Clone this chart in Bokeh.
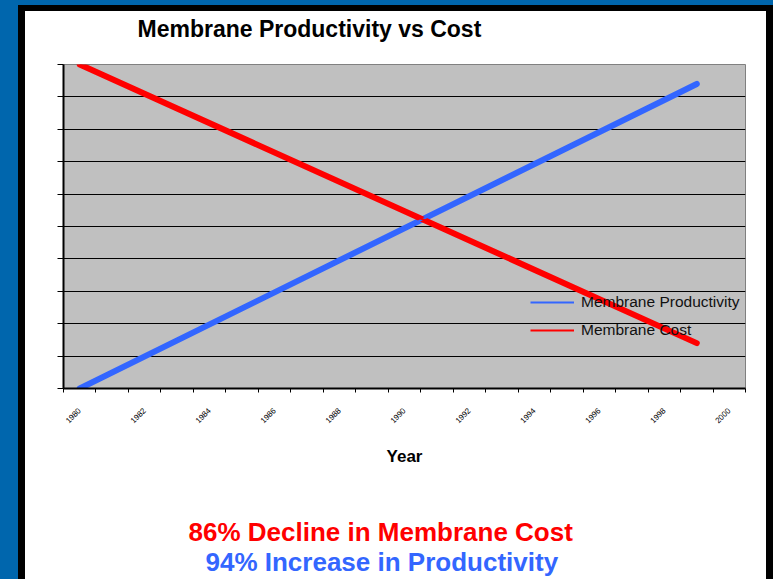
import math
from bokeh.plotting import figure
from bokeh.models import FixedTicker, Range1d, Legend, LegendItem, Title
from bokeh.embed import file_html
from bokeh.resources import INLINE

# ---------------- data ----------------
title_text = "Membrane Productivity vs Cost"
x_label = "Year"
series_names = ["Membrane Productivity", "Membrane Cost"]
years = [1980, 1999]
productivity = [0, 94]
cost = [100, 14]
x_tick_years = [1980, 1982, 1984, 1986, 1988, 1990, 1992, 1994, 1996, 1998, 2000]
x_tick_labels = ["1980", "1982", "1984", "1986", "1988", "1990", "1992", "1994", "1996", "1998", "2000"]
category_edges = [1979.5, 1980.5, 1981.5, 1982.5, 1983.5, 1984.5, 1985.5, 1986.5, 1987.5, 1988.5, 1989.5,
                  1990.5, 1991.5, 1992.5, 1993.5, 1994.5, 1995.5, 1996.5, 1997.5, 1998.5, 1999.5, 2000.5]
y_ticks = [0, 10, 20, 30, 40, 50, 60, 70, 80, 90, 100]
note_cost = "86% Decline in Membrane Cost"
note_prod = "94% Increase in Productivity"

# ---------------- style ----------------
FONT = "Liberation Sans"
BLUE = "#3366ff"
RED = "#ff0000"

p = figure(width=741, height=568, output_backend="svg", toolbar_location=None,
           x_range=Range1d(category_edges[0], category_edges[-1]),
           y_range=Range1d(y_ticks[0], y_ticks[-1]),
           min_border_left=38, min_border_right=21, min_border_top=53, min_border_bottom=191,
           background_fill_color="#c0c0c0", border_fill_color="white",
           outline_line_color="#808080", outline_line_width=1)

xa = p.xaxis[0]
xa.ticker = FixedTicker(ticks=x_tick_years, minor_ticks=category_edges)
xa.major_label_overrides = {y: l for y, l in zip(x_tick_years, x_tick_labels)}
xa.major_tick_out = 0
xa.major_tick_in = 0
xa.minor_tick_out = 4
xa.minor_tick_in = 0
xa.minor_tick_line_color = "black"
xa.axis_line_color = "black"
xa.axis_line_width = 2
xa.major_label_orientation = math.pi / 4
xa.major_label_text_font = FONT
xa.major_label_text_font_size = "8px"
xa.major_label_text_color = "black"
xa.major_label_standoff = 17
xa.axis_label = x_label
xa.axis_label_text_font = FONT
xa.axis_label_text_font_style = "bold"
xa.axis_label_text_font_size = "17px"
xa.axis_label_text_color = "black"
xa.axis_label_standoff = 18

ya = p.yaxis[0]
ya.ticker = FixedTicker(ticks=y_ticks, minor_ticks=[])
ya.major_label_overrides = {t: "" for t in y_ticks}
ya.major_tick_out = 6
ya.major_tick_in = 0
ya.minor_tick_out = 0
ya.minor_tick_in = 0
ya.major_tick_line_color = "black"
ya.axis_line_color = "black"
ya.axis_line_width = 2

p.xgrid.visible = False
p.ygrid.ticker = FixedTicker(ticks=y_ticks[1:-1])
p.ygrid.grid_line_color = "black"
p.ygrid.grid_line_width = 1
p.ygrid.grid_line_alpha = 1.0

p.line(years, productivity, line_color=BLUE, line_width=6, line_cap="round")
p.line(years, cost, line_color=RED, line_width=6, line_cap="round")
leg_prod = p.line(years, productivity, line_color=BLUE, line_width=2)
leg_cost = p.line(years, cost, line_color=RED, line_width=2)

legend = Legend(items=[LegendItem(label=series_names[0], renderers=[leg_prod]),
                       LegendItem(label=series_names[1], renderers=[leg_cost])],
                location=(467, 48), padding=0, margin=0, spacing=8,
                glyph_width=44, glyph_height=20, label_height=20, label_standoff=7,
                label_text_font=FONT, label_text_font_size="15.5px", label_text_color="#111111",
                border_line_color=None, background_fill_alpha=0)
p.add_layout(legend)

# ---- titles (side panels; first added sits nearest to the plot frame) ----
def spacer(size):
    return Title(text=" ", text_font_size="1px", standoff=size, text_color="white")

p.add_layout(spacer(20), "above")
p.add_layout(Title(text=title_text, align="left", offset=74, standoff=0, vertical_align="bottom",
                   text_font=FONT, text_font_style="bold", text_font_size="23px",
                   text_color="black"), "above")

p.add_layout(spacer(43), "below")
p.add_layout(Title(text=note_cost, align="left", offset=125, standoff=0, vertical_align="bottom",
                   text_font=FONT, text_font_style="bold", text_font_size="26px",
                   text_color=RED), "below")
p.add_layout(Title(text=note_prod, align="left", offset=142, standoff=0, vertical_align="top",
                   text_font=FONT, text_font_style="bold", text_font_size="26px",
                   text_color=BLUE), "below")

html = file_html(p, INLINE, title=title_text)
css = ("<style>html{background:#0066ad;overflow:hidden;}"
       "body{box-sizing:content-box;margin:5px 0 0 18px;padding:0;width:741px;height:600px;"
       "background:#fff;border-style:solid;border-color:#000;border-width:6px 7px 0 7px;}</style>")
html = html.replace("</head>", css + "</head>", 1)
open("out.html", "w").write(html)
